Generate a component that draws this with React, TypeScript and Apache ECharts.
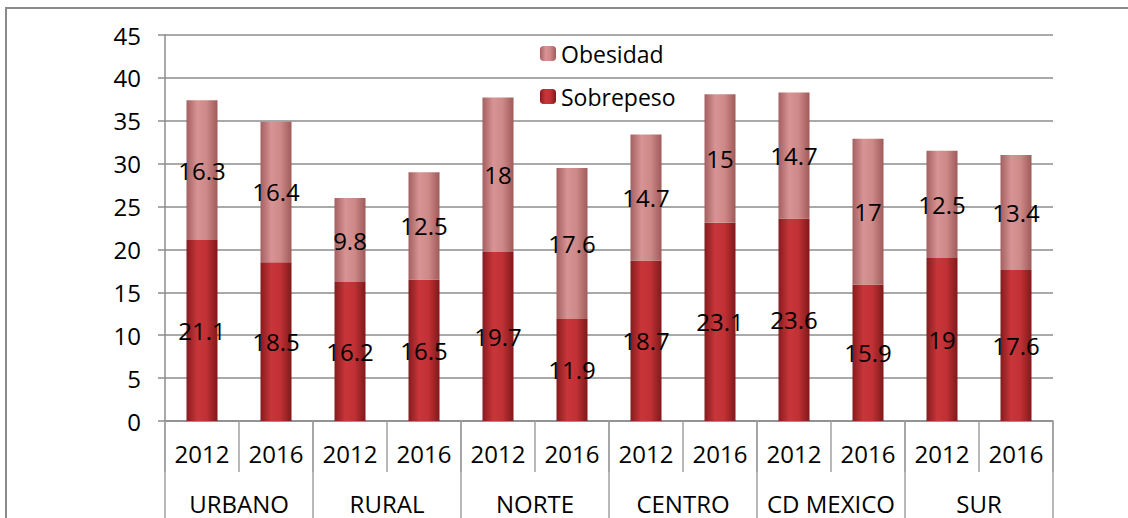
import React, { useEffect, useRef } from "react";
import * as echarts from "echarts";

const years = ["2012", "2016", "2012", "2016", "2012", "2016", "2012", "2016", "2012", "2016", "2012", "2016"];
const regions = ["URBANO", "RURAL", "NORTE", "CENTRO", "CD MEXICO", "SUR"];
const sobrepeso = [21.1, 18.5, 16.2, 16.5, 19.7, 11.9, 18.7, 23.1, 23.6, 15.9, 19, 17.6];
const obesidad = [16.3, 16.4, 9.8, 12.5, 18, 17.6, 14.7, 15, 14.7, 17, 12.5, 13.4];

const FONT = "Open Sans";
const GRID = "#8c8c8c";

export default function App() {
  const ref = useRef<HTMLDivElement>(null);
  useEffect(() => {
    if (!ref.current) return;
    const chart = echarts.init(ref.current, undefined, { renderer: "svg" });
    const redGrad = new echarts.graphic.LinearGradient(0, 0, 1, 0, [
      { offset: 0, color: "#861b1e" },
      { offset: 0.35, color: "#c8363a" },
      { offset: 0.65, color: "#c03034" },
      { offset: 1, color: "#7f191b" },
    ]);
    const pinkGrad = new echarts.graphic.LinearGradient(0, 0, 1, 0, [
      { offset: 0, color: "#a46060" },
      { offset: 0.35, color: "#d89494" },
      { offset: 0.65, color: "#cd8888" },
      { offset: 1, color: "#a05a5a" },
    ]);
    const labelStyle = {
      show: true,
      position: "inside" as const,
      color: "#000",
      fontFamily: FONT,
      fontSize: 24,
    };
    chart.setOption({
      animation: false,
      backgroundColor: "#fff",
      textStyle: { fontFamily: FONT },
      graphic: [
        {
          type: "rect",
          shape: { x: 6, y: 8, width: 1200, height: 600 },
          style: { fill: "none", stroke: "#8a8a8a", lineWidth: 2 },
          silent: true,
        },
      ],
      legend: {
        data: ["Obesidad", "Sobrepeso"],
        orient: "vertical",
        left: 535,
        top: 37,
        itemWidth: 16,
        itemHeight: 15,
        itemGap: 20,
        textStyle: { fontFamily: FONT, fontSize: 23, color: "#000" },
      },
      grid: { left: 165, right: 75, top: 35, bottom: 97 },
      xAxis: [
        {
          type: "category",
          data: years,
          position: "bottom",
          axisLine: { show: true, lineStyle: { color: GRID, width: 1.5 } },
          axisTick: { show: true, interval: 0, length: 51, lineStyle: { color: "#a0a0a0", width: 1.5 } },
          axisLabel: { interval: 0, color: "#000", fontFamily: FONT, fontSize: 24, margin: 20 },
          splitLine: { show: false },
        },
        {
          type: "category",
          data: regions,
          position: "bottom",
          gridIndex: 0,
          axisLine: { show: false },
          axisTick: { show: true, interval: 0, length: 110, lineStyle: { color: "#a0a0a0", width: 1.5 } },
          axisLabel: { interval: 0, color: "#000", fontFamily: FONT, fontSize: 24, margin: 70 },
          splitLine: { show: false },
        },
      ],
      yAxis: {
        type: "value",
        min: 0,
        max: 45,
        interval: 5,
        axisLine: { show: true, lineStyle: { color: GRID, width: 1.5 } },
        axisTick: { show: true, length: 7, lineStyle: { color: GRID, width: 1.5 } },
        axisLabel: { color: "#000", fontFamily: FONT, fontSize: 24, margin: 24 },
        splitLine: { show: true, lineStyle: { color: GRID, width: 1.5 } },
      },
      series: [
        {
          name: "Sobrepeso",
          type: "bar",
          stack: "total",
          xAxisIndex: 0,
          data: sobrepeso,
          barWidth: 31,
          itemStyle: { color: redGrad },
          label: labelStyle,
        },
        {
          name: "Obesidad",
          type: "bar",
          stack: "total",
          xAxisIndex: 0,
          data: obesidad,
          barWidth: 31,
          itemStyle: { color: pinkGrad },
          label: labelStyle,
        },
      ],
    });
    return () => chart.dispose();
  }, []);
  return (
    <div
      ref={ref}
      style={{ position: "absolute", left: 0, top: 0, width: 1128, height: 518 }}
    />
  );
}
